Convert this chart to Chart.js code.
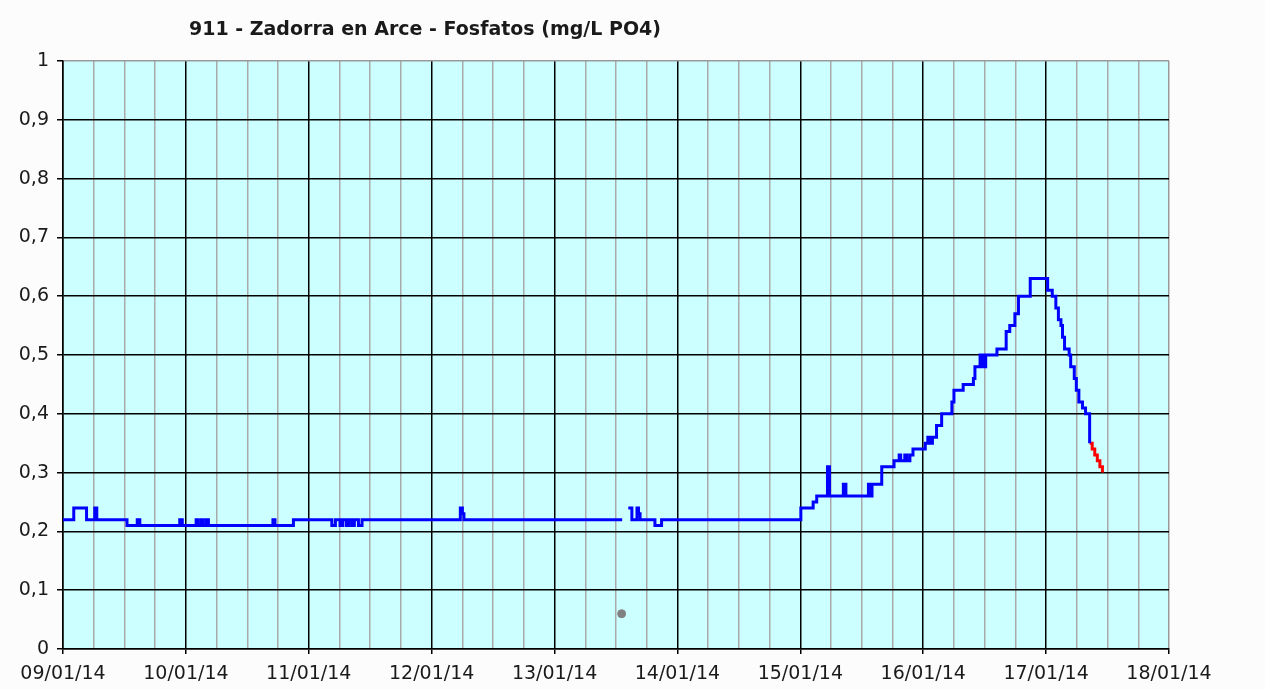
<!DOCTYPE html>
<html>
<head>
<meta charset="utf-8">
<title>911 - Zadorra en Arce - Fosfatos</title>
<script src="https://cdn.jsdelivr.net/npm/chart.js@4.4.1/dist/chart.umd.min.js"></script>
<style>
  html, body { margin: 0; padding: 0; background: #fcfcfc; }
  #wrap { width: 1265px; height: 689px; }
</style>
</head>
<body>
<div id="wrap"><canvas id="myChart"></canvas></div>
<script>
// Data (hours counted from 09/01/14 00:00)
const chartTitle = '911 - Zadorra en Arce - Fosfatos (mg/L PO4)';
const dayLabels = ['09/01/14', '10/01/14', '11/01/14', '12/01/14', '13/01/14',
                   '14/01/14', '15/01/14', '16/01/14', '17/01/14', '18/01/14'];

const blueHours = [0, 2.1, 4.6, 6.2, 6.6, 12.5, 14.5, 15.0, 22.8, 23.3,
    26.0, 26.4, 27.0, 27.4, 28.0, 28.4, 41.0, 41.4, 45.0,
    52.5, 53.2, 54.1, 54.6, 55.3, 55.8, 56.4, 56.9, 57.7, 58.4,
    77.6, 78.0, 78.3, 109.2, 109.3,
    110.4, 111.1, 112.1, 112.4, 112.7, 115.6, 116.9,
    144.1, 146.5, 147.2, 149.3, 149.7, 152.4, 152.9, 157.3, 157.7, 158.0,
    159.9, 162.3, 163.3, 163.6, 164.4, 164.8, 165.4, 166.0,
    168.4, 168.9, 169.4, 169.8, 170.6, 171.6, 173.6, 174.0, 175.8, 177.8, 178.1,
    179.1, 179.4, 179.7, 180.0, 180.2, 182.4, 184.2, 184.9, 185.9, 186.6, 188.9,
    192.3, 193.2, 193.9, 194.4, 194.9, 195.2, 195.6, 196.5, 196.8, 197.5,
    197.9, 198.4, 199.1, 199.7, 200.5];
const blueValues = [0.22, 0.24, 0.22, 0.24, 0.22, 0.21, 0.22, 0.21, 0.22, 0.21,
    0.22, 0.21, 0.22, 0.21, 0.22, 0.21, 0.22, 0.21, 0.22,
    0.21, 0.22, 0.21, 0.22, 0.21, 0.22, 0.21, 0.22, 0.21, 0.22,
    0.24, 0.23, 0.22, 0.22, null,
    0.24, 0.22, 0.24, 0.23, 0.22, 0.21, 0.22,
    0.24, 0.25, 0.26, 0.31, 0.26, 0.28, 0.26, 0.28, 0.26, 0.28,
    0.31, 0.32, 0.33, 0.32, 0.33, 0.32, 0.33, 0.34,
    0.35, 0.36, 0.35, 0.36, 0.38, 0.40, 0.42, 0.44, 0.45, 0.46, 0.48,
    0.50, 0.48, 0.50, 0.48, 0.50, 0.51, 0.54, 0.55, 0.57, 0.60, 0.63,
    0.61, 0.60, 0.58, 0.56, 0.55, 0.53, 0.51, 0.50, 0.48, 0.46,
    0.44, 0.42, 0.41, 0.40, 0.35];

const redHours = [200.5, 201.0, 201.5, 202.0, 202.5, 203.0];
const redValues = [0.35, 0.34, 0.33, 0.32, 0.31, 0.30];

const greyHours = [109.1];
const greyValues = [0.06];

function toPoints(xs, ys) {
    return xs.map((x, i) => ({x: x, y: ys[i]}));
}

Chart.defaults.font.family = '"DejaVu Sans", Verdana, sans-serif';
Chart.defaults.font.size = 19;
Chart.defaults.color = '#1a1a1a';

// plot background + title
const paintPlugin = {
    id: 'paint',
    beforeDraw(chart) {
        const a = chart.chartArea;
        const c = chart.ctx;
        c.save();
        c.fillStyle = '#ccffff';
        c.fillRect(a.left, a.top, a.right - a.left, a.bottom - a.top);
        c.restore();
    },
    afterDraw(chart) {
        const c = chart.ctx;
        c.save();
        c.font = 'bold 19px "DejaVu Sans", Verdana, sans-serif';
        c.fillStyle = '#1a1a1a';
        c.textAlign = 'center';
        c.textBaseline = 'middle';
        c.fillText(chartTitle, 425, 30);
        c.restore();
    }
};

const config = {
    type: 'line',
    data: {
        datasets: [
            {
                label: 'Fosfatos',
                data: toPoints(blueHours, blueValues),
                borderColor: '#0000ff',
                borderWidth: 3,
                pointRadius: 0,
                stepped: true,
                spanGaps: false
            },
            {
                label: 'Previsto',
                data: toPoints(redHours, redValues),
                borderColor: '#ff0000',
                borderWidth: 3,
                pointRadius: 0,
                stepped: true
            },
            {
                label: 'Otro',
                data: toPoints(greyHours, greyValues),
                showLine: false,
                pointRadius: 4,
                pointBackgroundColor: '#808080',
                pointBorderColor: '#808080'
            }
        ]
    },
    options: {
        responsive: true,
        maintainAspectRatio: false,
        animation: false,
        layout: {
            padding: {left: 0, top: 61, right: 96, bottom: 0}
        },
        scales: {
            x: {
                type: 'linear',
                min: 0,
                max: 216,
                border: {color: '#000', width: 1.5},
                grid: {
                    color: ctx => ctx.tick.value === 216 ? '#999999'
                        : (ctx.tick.value % 24 === 0 ? '#000' : '#aaaaaa'),
                    lineWidth: 1.5,
                    tickLength: 5,
                    tickColor: ctx => ctx.tick.value % 24 === 0 ? '#000' : 'rgba(0,0,0,0)'
                },
                ticks: {
                    stepSize: 6,
                    autoSkip: false,
                    maxRotation: 0,
                    padding: 9,
                    callback: v => v % 24 === 0 ? dayLabels[v / 24] : ''
                },
                afterFit(scale) { scale.height = 40; }
            },
            y: {
                min: 0,
                max: 1,
                border: {color: '#000', width: 1.5},
                grid: {
                    color: ctx => ctx.tick.value === 1 ? '#999999' : '#000',
                    lineWidth: 1.5,
                    tickLength: 6,
                    tickColor: '#000'
                },
                ticks: {
                    stepSize: 0.1,
                    padding: 8,
                    callback: v => (v === 0 || v === 1) ? String(v) : v.toFixed(1).replace('.', ',')
                },
                afterFit(scale) { scale.width = 63; }
            }
        },
        plugins: {
            legend: {display: false},
            title: {display: false},
            tooltip: {enabled: false}
        }
    },
    plugins: [paintPlugin]
};

const myChart = new Chart(
    document.querySelector('#myChart'),
    config
);
</script>
</body>
</html>
